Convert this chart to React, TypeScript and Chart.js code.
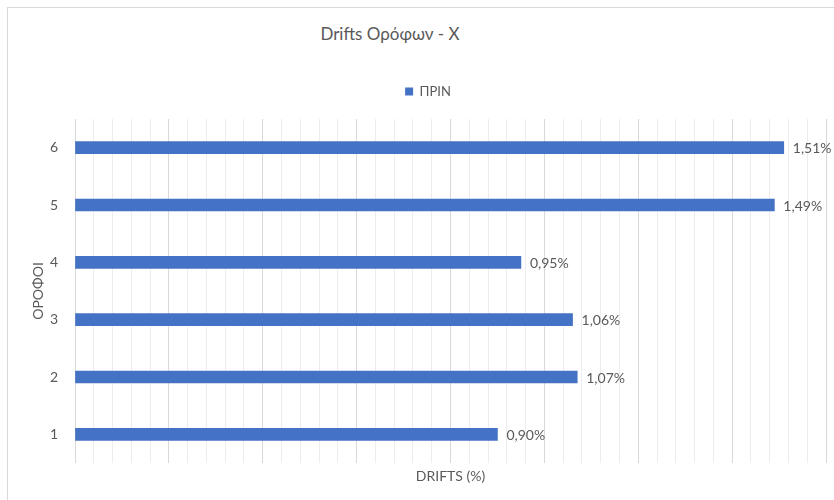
import React, { useEffect, useRef } from "react";
import { Chart, registerables } from "chart.js";

Chart.register(...registerables);

const chartTitle = "Drifts Ορόφων - X";
const seriesName = "ΠΡΙΝ";
const floors = ["1", "2", "3", "4", "5", "6"];
const driftValues = [0.9, 1.07, 1.06, 0.95, 1.49, 1.51];
const xAxisTitle = "DRIFTS (%)";
const yAxisTitle = "ΟΡΟΦΟΙ";
const xMin = 0;
const xMax = 1.6;
const majorStep = 0.2;
const minorStep = 0.04;

const FONT = "Lato, 'Noto Sans', sans-serif";
const TEXT = "#595959";
const BAR = "#4472C4";

const fmt = (v: number) => v.toFixed(2).replace(".", ",") + "%";

const dataLabelPlugin = {
  id: "barValueLabels",
  afterDatasetsDraw(chart: any) {
    const ctx = chart.ctx;
    ctx.save();
    ctx.font = `14px ${FONT}`;
    ctx.fillStyle = TEXT;
    ctx.textAlign = "left";
    ctx.textBaseline = "middle";
    chart.data.datasets.forEach((ds: any, di: number) => {
      const meta = chart.getDatasetMeta(di);
      meta.data.forEach((el: any, i: number) => {
        ctx.fillText(fmt(ds.data[i]), el.x + 9, el.y + 1);
      });
    });
    ctx.restore();
  },
};

export default function App() {
  const ref = useRef<HTMLCanvasElement>(null);
  useEffect(() => {
    if (!ref.current) return;
    const chart = new Chart(ref.current, {
      type: "bar",
      data: {
        labels: floors,
        datasets: [
          {
            label: seriesName,
            data: driftValues,
            backgroundColor: BAR,
            borderWidth: 0,
            barThickness: 12,
            xAxisID: "x",
          },
        ],
      },
      options: {
        indexAxis: "y",
        animation: false,
        responsive: false,
        maintainAspectRatio: false,
        layout: { padding: { left: 22, right: 8, top: 67, bottom: 0 } },
        plugins: {
          title: { display: false },
          tooltip: { enabled: false },
          legend: {
            display: true,
            position: "top",
            labels: {
              boxWidth: 8,
              boxHeight: 8,
              padding: 10,
              color: TEXT,
              font: { family: FONT, size: 13 },
            },
          },
        },
        scales: {
          x: {
            type: "linear",
            position: "bottom",
            min: xMin,
            max: xMax,
            ticks: { display: false, stepSize: minorStep },
            grid: {
              drawTicks: false,
              color: (c: any) => {
                const v = c.tick ? c.tick.value : 0;
                const r = v / majorStep;
                return Math.abs(r - Math.round(r)) < 1e-6 ? "#d9d9d9" : "#ededed";
              },
              lineWidth: 1,
            },
            border: { display: false },
            title: {
              display: true,
              text: xAxisTitle,
              color: TEXT,
              font: { family: FONT, size: 14 },
              padding: { top: 0, bottom: 15 },
            },
            afterFit: (s: any) => {
              s.height = 37;
            },
          },
          spacer: {
            type: "linear",
            position: "top",
            display: true,
            ticks: { display: false },
            grid: { display: false, drawTicks: false },
            border: { display: false },
            afterFit: (s: any) => {
              s.height = 11;
            },
          },
          y: {
            reverse: true,
            ticks: {
              color: TEXT,
              font: { family: FONT, size: 14 },
              padding: 17,
            },
            grid: { display: false, drawTicks: false },
            border: { display: false },
            title: {
              display: true,
              text: yAxisTitle,
              color: TEXT,
              font: { family: FONT, size: 14 },
              padding: { top: 0, bottom: 0 },
            },
            afterFit: (s: any) => {
              s.width = 45;
            },
          },
        },
      } as any,
      plugins: [dataLabelPlugin],
    });
    return () => chart.destroy();
  }, []);

  return (
    <div
      style={{
        position: "absolute",
        left: 0,
        top: 0,
        width: 834,
        height: 500,
        overflow: "hidden",
        background: "#ffffff",
      }}
    >
      <div
        style={{
          position: "absolute",
          left: 7,
          top: 7,
          width: 900,
          height: 600,
          borderLeft: "1px solid #d9d9d9",
          borderTop: "1px solid #d9d9d9",
        }}
      />
      <div
        style={{
          position: "absolute",
          left: 0,
          top: 23,
          width: 780,
          textAlign: "center",
          fontFamily: FONT,
          fontSize: 17,
          lineHeight: "22px",
          color: TEXT,
        }}
      >
        {chartTitle}
      </div>
      <canvas
        ref={ref}
        width={826}
        height={492}
        style={{ position: "absolute", left: 8, top: 8, width: 826, height: 492 }}
      />
    </div>
  );
}
